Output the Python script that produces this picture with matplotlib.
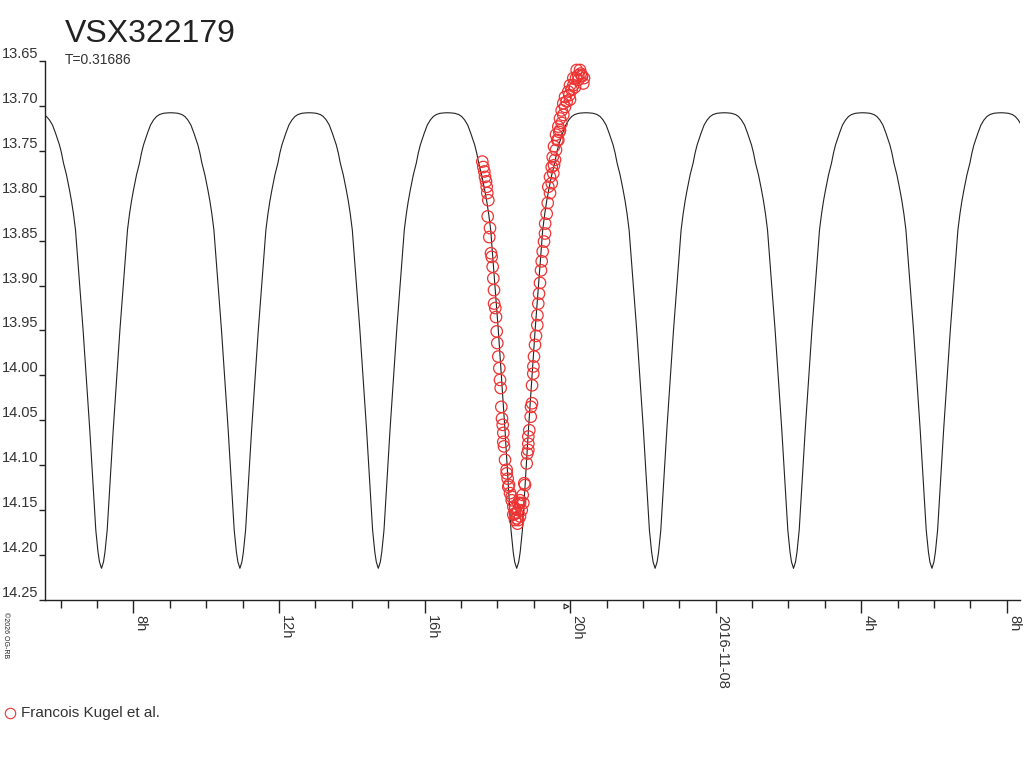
import numpy as np
import matplotlib
matplotlib.use("Agg")
import matplotlib.pyplot as plt
from matplotlib.lines import Line2D
import matplotlib.transforms as mtransforms

plt.rcParams['font.family'] = ['Liberation Sans', 'DejaVu Sans']

# ---------------- data ----------------
title = "VSX322179"
period_label = "T=0.31686"
period_days = 0.31686
t_min_epoch = 18.533          # hours after 2016-11-07 00:00 (a minimum)
legend_label = "Francois Kugel et al."

# light-curve template for one half cycle (phase from minimum, magnitude)
tmpl_phase = [0.0, 0.0072, 0.0126, 0.0206, 0.0423, 0.0665, 0.0939, 0.1012,
              0.1084, 0.1156, 0.1264, 0.1373, 0.1445, 0.1517, 0.1662, 0.1770,
              0.1879, 0.1987, 0.2095, 0.2240, 0.2366, 0.25]
tmpl_mag = [14.2147, 14.2077, 14.1966, 14.1721, 14.0608, 13.9495, 13.8381,
            13.8203, 13.8058, 13.7936, 13.7769, 13.7636, 13.7524, 13.7435,
            13.7302, 13.7213, 13.7157, 13.7118, 13.7096, 13.7082, 13.7078,
            13.7076]

# observations: hours after 2016-11-07 00:00, magnitude
obs_time = [17.588, 17.615, 17.643, 17.662, 17.690, 17.709, 17.725, 17.753,
            17.736, 17.799, 17.780, 17.827, 17.846, 17.874, 17.890, 17.909,
            17.912, 17.945, 17.964, 17.984, 18.000, 18.027, 18.055, 18.074,
            18.093, 18.110, 18.129, 18.148, 18.165, 18.184, 18.212, 18.258,
            18.302, 18.349, 18.396, 18.440, 18.486, 18.533, 18.577, 18.624,
            18.698, 18.742,
            18.808, 18.824, 18.852, 18.879, 18.918, 18.926, 18.953, 18.955,
            18.989, 18.992, 19.008, 19.036, 19.063, 19.099, 19.102, 19.126,
            19.146, 19.173, 19.201, 19.220, 19.247, 19.283, 19.310, 19.315,
            19.357, 19.385, 19.448, 19.495, 19.538, 19.585, 19.613, 19.648,
            19.703, 19.769, 19.813, 19.860, 19.907, 19.978, 20.044, 20.088,
            20.162, 20.225, 20.272, 20.291, 20.363,
            18.286, 18.321, 18.396, 18.486, 18.533, 18.577, 18.624, 18.670,
            18.714, 18.761, 18.486, 18.624, 18.577, 18.852, 18.852, 18.165,
            18.258, 18.440, 18.555,
            20.225, 20.135, 19.997, 19.723, 19.676, 19.558, 20.327, 20.382,
            20.181, 20.319, 20.088, 19.997, 19.951, 19.860, 19.813, 19.769,
            19.723, 19.676, 19.613, 19.558, 19.522, 19.495, 19.448, 19.401]
obs_mag = [13.762, 13.768, 13.773, 13.779, 13.784, 13.790, 13.797, 13.805,
           13.823, 13.836, 13.846, 13.864, 13.868, 13.879, 13.892, 13.905,
           13.920, 13.925, 13.935, 13.951, 13.964, 13.979, 13.992, 14.005,
           14.014, 14.035, 14.048, 14.055, 14.064, 14.079, 14.094, 14.109,
           14.124, 14.131, 14.139, 14.146, 14.154, 14.159, 14.150, 14.142,
           14.133, 14.120,
           14.098, 14.087, 14.076, 14.061, 14.046, 14.035, 14.031, 14.011,
           13.998, 13.990, 13.979, 13.966, 13.956, 13.944, 13.933, 13.920,
           13.909, 13.897, 13.883, 13.873, 13.862, 13.851, 13.842, 13.831,
           13.820, 13.808, 13.797, 13.786, 13.775, 13.760, 13.749, 13.738,
           13.729, 13.719, 13.710, 13.701, 13.695, 13.688, 13.682, 13.677,
           13.669, 13.666, 13.660, 13.664, 13.675,
           14.115, 14.122, 14.135, 14.148, 14.153, 14.161, 14.157, 14.150,
           14.142, 14.122, 14.161, 14.139, 14.142, 14.083, 14.068, 14.074,
           14.105, 14.155, 14.165,
           13.671, 13.679, 13.693, 13.727, 13.738, 13.766, 13.667, 13.669,
           13.660, 13.666, 13.669, 13.677, 13.684, 13.690, 13.697, 13.705,
           13.714, 13.723, 13.732, 13.745, 13.757, 13.768, 13.779, 13.790]

major_ticks = [8, 12, 16, 20, 24, 28, 32]
major_labels = ["8h", "12h", "16h", "20h", "2016-11-08", "4h", "8h"]
minor_ticks = list(range(6, 33))
y_ticks = [13.65, 13.70, 13.75, 13.80, 13.85, 13.90, 13.95, 14.00,
           14.05, 14.10, 14.15, 14.20, 14.25]
mean_obs_time = 19.88

# ---------------- model curve from template ----------------
P_h = period_days * 24.0
mt, mm = [], []
for k in range(-4, 5):
    base = t_min_epoch + k * P_h / 2.0
    for ph, mg in zip(tmpl_phase, tmpl_mag):
        mt.append(base + ph * P_h)
        mm.append(mg)
    for ph, mg in zip(tmpl_phase[::-1][1:], tmpl_mag[::-1][1:]):
        mt.append(base + (0.5 - ph) * P_h)
        mm.append(mg)

# ---------------- figure ----------------
W, H = 1024, 768
fig = plt.figure(figsize=(W / 100, H / 100), dpi=100)
ax = fig.add_axes([45 / W, 1 - 600 / H, 975 / W, 539 / H])

text_col = '#333333'
red = '#ee3333'

ax.plot(mt, mm, color='#222222', lw=0.8, zorder=2)
ax.scatter(obs_time, obs_mag, s=68, facecolors='none', edgecolors=red,
           linewidths=0.9, zorder=3)

ax.set_xlim(5.574, 32.36)
ax.set_ylim(14.25, 13.65)

for s in ['top', 'right']:
    ax.spines[s].set_visible(False)
for s in ['left', 'bottom']:
    ax.spines[s].set_color('#222222')
    ax.spines[s].set_linewidth(1.0)

ax.set_xticks(major_ticks)
ax.set_xticklabels(major_labels, rotation=-90, ha='left', va='top',
                   fontsize=10.5, color=text_col)
ax.set_xticks(minor_ticks, minor=True)
ax.tick_params(axis='x', which='major', length=9, width=1.0, pad=1.5,
               color='#222222')
ax.tick_params(axis='x', which='minor', length=6, width=1.0, color='#222222')

ax.set_yticks(y_ticks)
ax.set_yticklabels([f"{v:.2f}" for v in y_ticks], fontsize=10.5,
                   color=text_col)
ax.tick_params(axis='y', which='major', length=4.5, width=1.0, pad=0,
               color='#222222')
for lab in ax.get_yticklabels():
    lab.set_va('bottom')

# small marker at mean observation time below axis
trans = mtransforms.blended_transform_factory(ax.transData, ax.transAxes)
ax.plot([mean_obs_time], [-0.0115], marker='>', markersize=3.5, mfc='none',
        mec='#222222', mew=0.8, transform=trans, clip_on=False)

# titles
fig.text(65 / W, 1 - 42 / H, title, fontsize=23, color='#222222',
         va='baseline', ha='left')
fig.text(65 / W, 1 - 64.5 / H, period_label, fontsize=10, color=text_col,
         va='baseline', ha='left')

# copyright
fig.text(2 / W, 1 - 612 / H, "\u00a92026 OG-RB", fontsize=5, rotation=-90,
         va='top', ha='left', color='#222222')

# legend
fig.add_artist(Line2D([10 / W], [1 - 713 / H], marker='o', markersize=7.5,
                      mfc='none', mec=red, mew=0.8, linestyle='none',
                      transform=fig.transFigure))
fig.text(21 / W, 1 - 717 / H, legend_label, fontsize=11, color=text_col,
         va='baseline', ha='left')

fig.savefig("out.png", dpi=100)
